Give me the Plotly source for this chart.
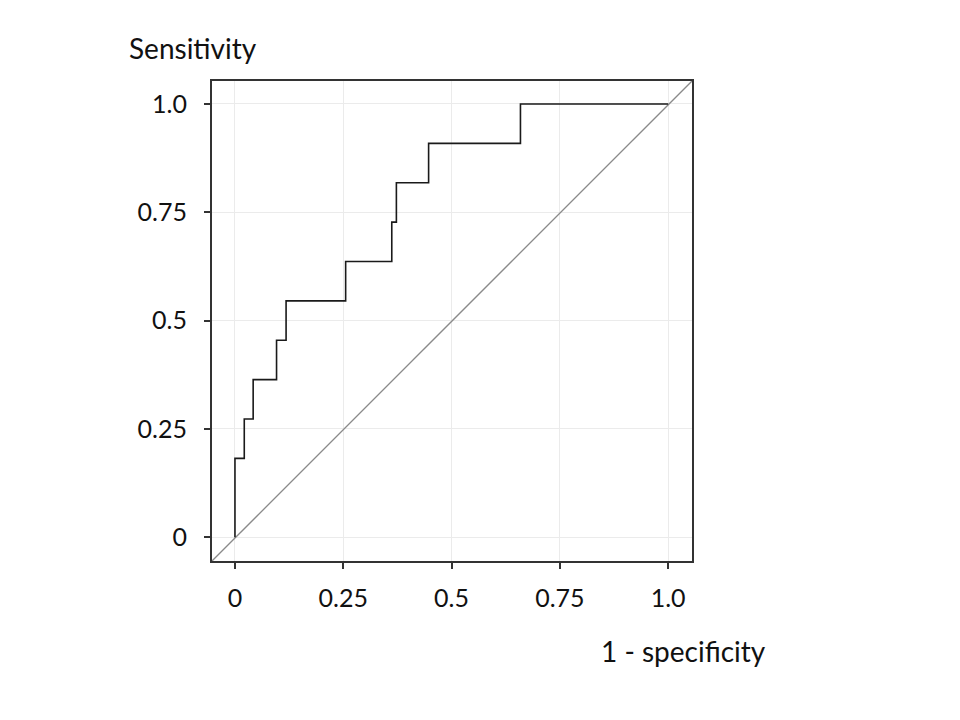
import plotly.graph_objects as go

# ROC curve (11 positives -> steps of 1/11 in sensitivity)
fpr = [0, 0, 0.0215, 0.042, 0.096, 0.118, 0.2555, 0.362, 0.3726, 0.447, 0.659, 1.0]
tpr = [0, 2/11, 3/11, 4/11, 5/11, 6/11, 7/11, 8/11, 9/11, 10/11, 1.0, 1.0]

tick_vals = [0, 0.25, 0.5, 0.75, 1.0]
tick_text = ["0", "0.25", "0.5", "0.75", "1.0"]

x_range = [-0.053, 1.055]
y_range = [-0.055, 1.053]

font_name = "Lato, Open Sans, sans-serif"

fig = go.Figure()
# reference diagonal, corner to corner of the plot box
fig.add_trace(go.Scatter(x=x_range, y=y_range, mode="lines",
                         line=dict(color="#8a8a8a", width=1.3), hoverinfo="skip"))
fig.add_trace(go.Scatter(x=fpr, y=tpr, mode="lines", line_shape="hv",
                         line=dict(color="#1a1a1a", width=1.6)))

axis_style = dict(tickvals=tick_vals, ticktext=tick_text, showgrid=True,
                  gridcolor="#ebebeb", gridwidth=1, zeroline=False,
                  showline=True, linecolor="#333333", linewidth=2, mirror=True,
                  ticks="outside", ticklen=6, tickcolor="#333333", tickwidth=2,
                  tickfont=dict(family=font_name, size=25, color="#111111"))

fig.update_xaxes(range=x_range, ticklabelstandoff=8, **axis_style)
fig.update_yaxes(range=y_range, ticklabelstandoff=12, **axis_style)

fig.add_annotation(text="Sensitivity", x=-0.177, y=1.069, xref="paper", yref="paper",
                   xanchor="left", yanchor="middle", showarrow=False,
                   font=dict(family=font_name, size=28, color="#111111"))
fig.add_annotation(text="1 - specificity", x=1.158, y=-0.1875, xref="paper", yref="paper",
                   xanchor="right", yanchor="middle", showarrow=False,
                   font=dict(family=font_name, size=28, color="#111111"))

# page body adds an 8px offset, so the figure is sized to fit inside the window
fig.update_layout(width=952, height=712, showlegend=False,
                  plot_bgcolor="white", paper_bgcolor="white",
                  margin=dict(l=204, r=268, t=73, b=159))

fig.write_html("out.html")
